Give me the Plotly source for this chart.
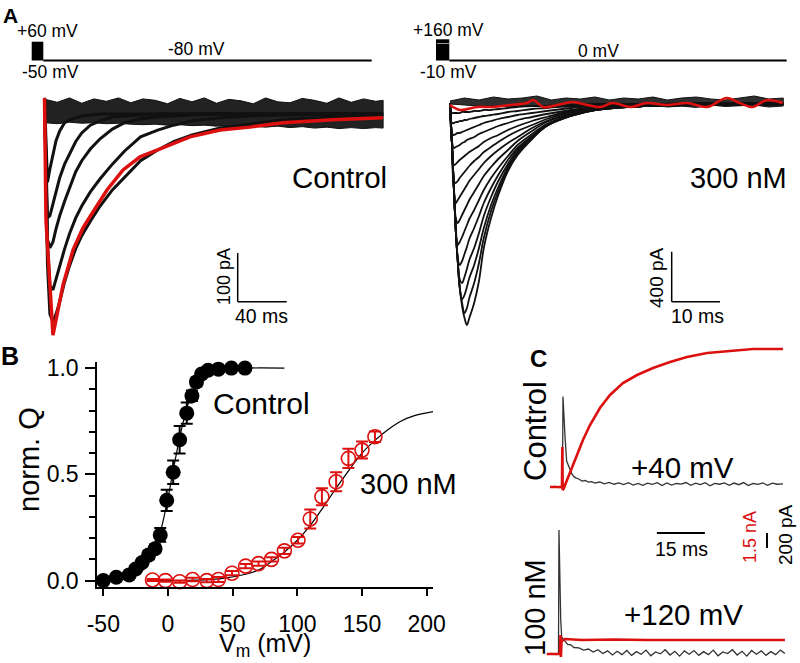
import plotly.graph_objects as go

W, H = 800, 663
FONT = "Liberation Sans, Arial, sans-serif"
RED = "#dd1010"

# ---------------- Panel B: Q-V data ----------------
ctrl_v = [-50, -40, -30, -25, -20, -15, -10, -6, -1, 4, 9, 14.5, 18.5, 22, 26, 31, 39, 49, 59.5]
ctrl_q = [0.0, 0.016, 0.027, 0.055, 0.085, 0.12, 0.15, 0.215, 0.378, 0.51, 0.663, 0.788, 0.87, 0.935, 0.972, 0.99, 0.995, 1.0, 1.0]
ctrl_err = [0.005, 0.005, 0.01, 0.015, 0.015, 0.02, 0.02, 0.032, 0.05, 0.055, 0.065, 0.05, 0.025, 0.02, 0.015, 0.01, 0.008, 0.005, 0.005]

tox_v = [-12, -2, 9, 19, 30, 39, 49.5, 60, 70, 80, 90, 100.5, 110, 119, 130, 139.5, 150, 160]
tox_q = [0.003, 0.0, -0.005, 0.005, 0.0, 0.005, 0.035, 0.068, 0.08, 0.1, 0.14, 0.19, 0.29, 0.395, 0.465, 0.575, 0.614, 0.677]
tox_err = [0.005, 0.005, 0.005, 0.008, 0.008, 0.012, 0.01, 0.01, 0.01, 0.01, 0.015, 0.015, 0.045, 0.04, 0.045, 0.045, 0.04, 0.025]

ctrl_fit_v = [-50, -40, -30, -20, -15, -10, -5, 0, 5, 10, 15, 20, 25, 30, 40, 50, 60, 90]
ctrl_fit_q = [0.001, 0.004, 0.013, 0.045, 0.083, 0.15, 0.25, 0.39, 0.55, 0.70, 0.82, 0.90, 0.945, 0.97, 0.99, 0.997, 1.0, 1.0]
tox_fit_v = [-15, 0, 20, 40, 60, 70, 80, 90, 100, 110, 120, 130, 140, 150, 160, 170, 180, 190, 205]
tox_fit_q = [0.0, 0.0, 0.002, 0.008, 0.03, 0.05, 0.09, 0.135, 0.19, 0.26, 0.345, 0.435, 0.52, 0.6, 0.66, 0.71, 0.75, 0.775, 0.795]

b_xticks = [-50, 0, 50, 100, 150, 200]
b_xticktext = ["-50", "0", "50", "100", "150", "200"]

# ---------------- Panel A left: Control off-gating currents (ms, pA) ----------------
ctrl_t = [-0.4, 0.8, 2, 4, 6.5, 9, 12, 16, 20, 25, 30, 37, 45, 55, 65, 78, 92, 105, 120, 143, 167, 194, 235, 276]
ctrl_tr1 = [33, -82, -140, -113, -82, -55, -35, -18, -12, -8, -4, -2, 0, 0, 0, 0, 0, 0, 0, 0, 0, 0, 0, 0]
ctrl_tr2 = [33, -123, -213, -209, -185, -160, -131, -103, -82, -57, -39, -23, -14, -6, -4, -2, 0, 0, 0, 0, 0, 0, 0, 0]
ctrl_tr3 = [33, -123, -257, -275, -263, -236, -209, -179, -152, -119, -96, -72, -51, -31, -18, -10, -6, -4, -2, 0, 0, 0, 0, 0]
ctrl_tr4 = [33, -144, -267, -353, -361, -339, -312, -277, -246, -214, -189, -160, -133, -103, -76, -47, -33, -23, -14, -8, -4, -2, 0, 0]
ctrl_tr5 = [33, -164, -308, -411, -427, -411, -386, -345, -312, -277, -250, -220, -189, -156, -129, -96, -74, -57, -43, -29, -21, -12, -6, -2]
ctrl_red_t = [-0.4, 0.8, 6.5, 10.6, 14.7, 22.9, 31, 36.7, 44.9, 50.6, 63.7, 77.6, 91.4, 104.5, 118.4, 142.9, 167.3, 194.3, 235.1, 275.9]
ctrl_red_i = [33, -218, -454, -402, -351, -279, -234, -211, -177, -156, -115, -88, -74, -60, -47, -33, -27, -18, -12, -8]
ctrl_band_t = [0, 10, 20, 30, 40, 50, 60, 70, 80, 90, 100, 110, 120, 130, 140, 150, 160, 170, 180, 190, 200, 210, 220, 230, 240, 250, 260, 270, 276]
ctrl_band_hi = [30, 24, 33, 22, 31, 26, 33, 23, 31, 28, 21, 32, 25, 33, 22, 30, 27, 21, 33, 25, 23, 32, 28, 22, 33, 24, 31, 26, 28]
ctrl_band_lo = [-18, -20, -17, -19, -18, -20, -19, -21, -22, -21, -23, -22, -24, -23, -25, -24, -26, -25, -27, -25, -28, -26, -29, -27, -30, -28, -30, -28, -29]

# ---------------- Panel A right: 300 nM (ms, pA) ----------------
t300 = [0, 0.4, 0.8, 1.2, 1.6, 2.0, 2.5, 3.0, 3.5, 4, 5, 6, 7, 8.5, 10, 12, 14, 17, 20, 25, 30, 40, 50, 69]
tr300 = [
    [0, -320, -680, -1024, -1264, -1472, -1624, -1720, -1776, -1720, -1600, -1424, -1160, -920, -736, -544, -416, -288, -184, -104, -56, -24, -16, -8],
    [0, -320, -680, -1024, -1264, -1472, -1600, -1680, -1640, -1560, -1440, -1280, -1080, -864, -704, -528, -400, -280, -184, -104, -56, -24, -16, -8],
    [0, -320, -680, -1024, -1264, -1472, -1568, -1536, -1472, -1400, -1296, -1160, -1000, -816, -672, -512, -392, -280, -184, -104, -56, -24, -16, -8],
    [0, -320, -680, -1024, -1264, -1408, -1440, -1392, -1328, -1256, -1160, -1040, -904, -752, -624, -488, -376, -272, -176, -96, -56, -24, -16, -8],
    [0, -320, -680, -1024, -1240, -1296, -1264, -1208, -1152, -1088, -1000, -904, -800, -680, -576, -456, -360, -264, -176, -96, -56, -24, -16, -8],
    [0, -320, -680, -1000, -1136, -1112, -1072, -1024, -976, -928, -856, -776, -696, -600, -520, -424, -336, -248, -168, -96, -48, -24, -16, -8],
    [0, -320, -680, -920, -960, -936, -896, -856, -816, -776, -712, -648, -584, -512, -448, -376, -304, -224, -152, -88, -48, -24, -16, -8],
    [0, -320, -680, -800, -776, -752, -720, -688, -656, -624, -576, -528, -480, -424, -376, -320, -272, -200, -144, -80, -48, -24, -16, -8],
    [0, -320, -624, -640, -624, -600, -576, -552, -528, -504, -464, -432, -392, -352, -312, -264, -224, -176, -128, -72, -40, -24, -16, -8],
    [0, -320, -496, -488, -472, -456, -440, -424, -408, -392, -368, -344, -312, -280, -256, -216, -184, -144, -112, -64, -40, -24, -16, -8],
    [0, -304, -360, -352, -344, -336, -320, -312, -296, -288, -272, -248, -232, -208, -184, -160, -136, -112, -88, -56, -32, -16, -8, -8],
    [0, -240, -256, -248, -240, -240, -232, -224, -216, -208, -192, -176, -160, -144, -128, -112, -96, -80, -64, -40, -24, -16, -8, -8],
    [0, -160, -160, -152, -152, -144, -144, -136, -136, -128, -120, -112, -104, -96, -88, -72, -64, -48, -40, -24, -16, -8, -8, 0],
    [0, -80, -80, -80, -80, -80, -72, -72, -72, -72, -64, -64, -56, -56, -48, -40, -32, -24, -24, -16, -8, -8, 0, 0],
]
red300_t = [0, 2.07, 5.6, 8.9, 12.4, 15.9, 17.2, 19.3, 22.2, 25.5, 28.4, 31.1, 33.7, 37.3, 40.8, 44.9, 49.1, 53.2, 57.3, 60, 62.7, 65.6, 68.9]
red300_i = [-16, -56, -32, -32, -16, 0, 24, -32, -16, 8, -16, -32, 0, -32, 0, -16, 0, -32, 40, 0, -32, 24, 0]
band300_t = [0, 3, 6, 9, 12, 15, 18, 21, 24, 27, 30, 33, 36, 39, 42, 45, 48, 51, 54, 57, 60, 63, 66, 69]
band300_hi = [16, 40, 24, 48, 32, 40, 56, 24, 40, 32, 48, 24, 40, 32, 48, 24, 40, 48, 32, 24, 40, 56, 32, 40]
band300_lo = [-8, -16, -24, -20, -32, -24, -28, -16, -32, -24, -36, -20, -32, -24, -16, -32, -24, -36, -16, -28, -24, -16, -32, -24]

# ---------------- Panel C (ms; black pA, red nA) ----------------
cc_t = [0, 1.5, 3, 3.9, 4.05, 4.3, 4.7, 5.2, 5.7, 6.25, 6.8, 7.3, 8, 9, 10, 11, 12, 13, 14, 15.5, 17, 18.5, 20, 21.5, 23, 24.5, 26, 27.5, 29, 30.5, 32, 33.5, 35, 36.5, 38, 39.5, 41, 42.5, 44, 45.5, 47, 48.5, 50, 51.5, 53, 54.5, 56, 57.5, 59, 60.5, 62, 63.5, 65, 66.5, 68, 69.5, 71, 72.8]
cc_i = [-27, -20, -33, -25, 1180, 900, 640, 320, 260, 200, 150, 120, 95, 80, 52, 60, 38, 45, 25, 40, 15, 35, 10, 28, 5, 30, 0, 22, -5, 25, 8, 30, -8, 27, 0, 20, 12, 33, -5, 24, 5, 30, -10, 22, 10, 28, -3, 26, 4, 32, -6, 20, 8, 27, -4, 24, 10, 15]
ccr_t = [0, 3.75, 3.85, 3.94, 4.2, 6.25, 8.4, 10.3, 12.5, 15.6, 18.75, 22.8, 27.2, 32.2, 37.5, 42.8, 49.1, 55.3, 63.4, 72.8]
ccr_i = [0, 0, 4.0, -0.3, -0.2, 1.4, 3.2, 4.7, 6.2, 7.9, 9.2, 10.4, 11.2, 11.9, 12.5, 13.0, 13.4, 13.6, 13.8, 13.8]
cb_t = [-1, 0.5, 2.0, 2.65, 2.8, 3.0, 3.35, 3.65, 4.2, 4.7, 5.5, 6.5, 7.5, 9, 10.5, 12, 13.5, 15, 16.5, 18, 19.5, 21, 22.5, 24, 25.5, 27, 28.5, 30, 31.5, 33, 34.5, 36, 37.5, 39, 40.5, 42, 43.5, 45, 46.5, 48, 49.5, 51, 52.5, 54, 55.5, 57, 58.5, 60, 61.5, 63, 64.5, 66, 67.5, 69, 70.5, 72, 73.4]
cb_i = [-30, -20, -35, -27, 1627, 1000, 430, 200, 170, 133, 100, 95, 60, 55, 25, 40, 0, 30, -20, 15, -40, 10, -35, 20, -45, 5, -30, 25, -50, 0, -25, 30, -40, 10, -55, 15, -30, 20, -45, 5, -35, 25, -50, 0, -20, 30, -40, 10, -55, 20, -30, 15, -45, 5, -35, 25, -20]
cbr_t = [-1, 3.1, 3.28, 3.4, 3.6, 4.7, 10, 20, 30, 40, 50, 60, 73.4]
cbr_i = [0, 0, 1.9, -0.3, 1.3, 1.5, 1.4, 1.45, 1.4, 1.4, 1.45, 1.4, 1.4]

# scale bar sizes
SB_A_CTRL = (40, 100)   # ms, pA
SB_A_TOX = (10, 400)    # ms, pA
SB_C = (15, 200)        # ms, pA


def fx(x):
    return x / W


def fy(y):
    return 1 - y / H


fig = go.Figure()


def line(x, y, xa, ya, color="black", width=1.5, shape="linear"):
    fig.add_trace(go.Scatter(x=x, y=y, xaxis=xa, yaxis=ya, mode="lines",
                             line=dict(color=color, width=width, shape=shape),
                             hoverinfo="skip", showlegend=False))


# ----- Panel A left -----
fig.add_trace(go.Scatter(x=ctrl_band_t + ctrl_band_t[::-1], y=ctrl_band_hi + ctrl_band_lo[::-1],
                         xaxis="x2", yaxis="y2", mode="lines", fill="toself",
                         fillcolor="rgba(10,10,10,0.9)", line=dict(width=1, color="#111"),
                         hoverinfo="skip", showlegend=False))
for tr in [ctrl_tr1, ctrl_tr2, ctrl_tr3, ctrl_tr4, ctrl_tr5]:
    line(ctrl_t, tr, "x2", "y2", "#111", 3)
line(ctrl_red_t, ctrl_red_i, "x2", "y2", RED, 3.5)

# ----- Panel A right -----
fig.add_trace(go.Scatter(x=band300_t + band300_t[::-1], y=band300_hi + band300_lo[::-1],
                         xaxis="x3", yaxis="y3", mode="lines", fill="toself",
                         fillcolor="rgba(10,10,10,0.85)", line=dict(width=1, color="#111"),
                         hoverinfo="skip", showlegend=False))
for tr in tr300:
    line(t300, tr, "x3", "y3", "#111", 1.8, "spline")
line(red300_t, red300_i, "x3", "y3", RED, 2.5, "spline")

# ----- Panel B -----
line(ctrl_fit_v, ctrl_fit_q, "x", "y", "black", 1.2, "spline")
line(tox_fit_v, tox_fit_q, "x", "y", "black", 1.2, "spline")
fig.add_trace(go.Scatter(x=ctrl_v, y=ctrl_q, xaxis="x", yaxis="y", mode="markers",
                         marker=dict(symbol="circle", size=15, color="black"),
                         error_y=dict(type="data", array=ctrl_err, color="black", thickness=2, width=6),
                         cliponaxis=False, hoverinfo="skip", showlegend=False))
fig.add_trace(go.Scatter(x=tox_v, y=tox_q, xaxis="x", yaxis="y", mode="markers",
                         marker=dict(symbol="circle-open", size=14, color=RED, line=dict(width=1.6, color=RED)),
                         error_y=dict(type="data", array=tox_err, color=RED, thickness=2, width=6),
                         cliponaxis=False, hoverinfo="skip", showlegend=False))

# ----- Panel C -----
line(cc_t, cc_i, "x4", "y4", "#333", 1.3)
line(ccr_t, ccr_i, "x4", "y5", RED, 2.6)
line(cb_t, cb_i, "x6", "y6", "#333", 1.3)
line(cbr_t, cbr_i, "x6", "y7", RED, 2.6)

hidden = dict(visible=False, showgrid=False, zeroline=False, fixedrange=True, automargin=False)

layout = dict(
    width=W, height=H, margin=dict(l=0, r=0, t=0, b=0, pad=0, autoexpand=False), autosize=False,
    paper_bgcolor="white", plot_bgcolor="rgba(0,0,0,0)", showlegend=False,
    font=dict(family=FONT, color="black"),
    xaxis=dict(domain=[fx(97), fx(433)], range=[-54.9, 204.9], anchor="y", automargin=False,
               showline=True, linecolor="black", linewidth=1.5, ticks="outside",
               ticklen=7, tickwidth=1.5, tickcolor="black", tickvals=b_xticks, ticktext=b_xticktext,
               tickfont=dict(size=23, family=FONT), ticklabelstandoff=9,
               showgrid=False, zeroline=False),
    yaxis=dict(domain=[fy(587), fy(361.7)], range=[-0.03, 1.03], anchor="x", automargin=False,
               showline=True, linecolor="black", linewidth=1.5, ticks="outside",
               ticklen=10, tickwidth=1.5, tickcolor="black", tick0=0, dtick=0.5, tickformat=".1f",
               minor=dict(ticks="outside", ticklen=6, tickwidth=1.5, tickcolor="black", dtick=0.1, tick0=0),
               tickfont=dict(size=23, family=FONT), ticklabelstandoff=2,
               showgrid=False, zeroline=False),
    xaxis2=dict(domain=[fx(40), fx(395)], range=[-4.08, 285.7], anchor="y2", **hidden),
    yaxis2=dict(domain=[fy(340), fy(85)], range=[-464.1, 59.5], anchor="x2", **hidden),
    xaxis3=dict(domain=[fx(440), fx(795)], range=[-2.07, 71.43], anchor="y3", **hidden),
    yaxis3=dict(domain=[fy(340), fy(85)], range=[-1896, 144], anchor="x3", **hidden),
    xaxis4=dict(domain=[fx(540), fx(795)], range=[-3.125, 76.56], anchor="y4", **hidden),
    yaxis4=dict(domain=[fy(520), fy(340)], range=[-466.7, 1933.3], anchor="x4", **hidden),
    yaxis5=dict(domain=[fy(520), fy(340)], range=[-3.3, 14.7], anchor="x4", overlaying="y4", **hidden),
    xaxis6=dict(domain=[fx(540), fx(795)], range=[-3.125, 76.56], anchor="y6", **hidden),
    yaxis6=dict(domain=[fy(663), fy(520)], range=[-146.7, 1760], anchor="x6", **hidden),
    yaxis7=dict(domain=[fy(663), fy(520)], range=[-0.9, 13.4], anchor="x6", overlaying="y6", **hidden),
)
fig.update_layout(**layout)

shapes = []


def seg(x0, y0, x1, y1, xref, yref, color="black", width=1.5):
    shapes.append(dict(type="line", x0=x0, y0=y0, x1=x1, y1=y1, xref=xref, yref=yref,
                       line=dict(color=color, width=width)))


# scale bars (in data units of each panel)
seg(157.3, -285.4, 157.3, -285.4 - SB_A_CTRL[1], "x2", "y2")
seg(157.3, -285.4 - SB_A_CTRL[1], 157.3 + SB_A_CTRL[0], -285.4 - SB_A_CTRL[1], "x2", "y2")
seg(45.9, -1190, 45.9, -1190 - SB_A_TOX[1], "x3", "y3")
seg(45.9, -1190 - SB_A_TOX[1], 45.9 + SB_A_TOX[0], -1190 - SB_A_TOX[1], "x3", "y3")
seg(33.4, 1586.7, 33.4 + SB_C[0], 1586.7, "x6", "y6", width=2)
seg(67.8, 1586.7, 67.8, 1586.7 - SB_C[1], "x6", "y6", width=2)

# voltage protocols (paper coords)
shapes.append(dict(type="rect", x0=fx(31.7), x1=fx(43.3), y0=fy(60.5), y1=fy(41.7), xref="paper", yref="paper",
                   fillcolor="black", line=dict(width=0)))
seg(fx(43.3), fy(60.5), fx(371.7), fy(60.5), "paper", "paper", width=2)
shapes.append(dict(type="rect", x0=fx(436), x1=fx(449.3), y0=fy(60.5), y1=fy(39.3), xref="paper", yref="paper",
                   fillcolor="black", line=dict(width=0)))
seg(fx(437), fy(43.5), fx(449), fy(43.5), "paper", "paper", color="#999", width=1)
seg(fx(449.3), fy(60.5), fx(786.7), fy(60.5), "paper", "paper", width=2)
fig.update_layout(shapes=shapes)


def text(x, y, s, size, color="black", angle=0, bold=False):
    fig.add_annotation(x=fx(x), y=fy(y), xref="paper", yref="paper", text=("<b>%s</b>" % s) if bold else s,
                       showarrow=False, textangle=angle, xanchor="center", yanchor="middle",
                       font=dict(size=size, color=color, family=FONT))


# panel letters
text(10, 15, "A", 21, bold=True)
text(10, 356, "B", 25, bold=True)
text(538, 358, "C", 24, bold=True)

# panel A texts
text(47.5, 31, "+60 mV", 17.5)
text(196, 49, "-80 mV", 17.5)
text(50, 72, "-50 mV", 17.5)
text(448, 30, "+160 mV", 17.5)
text(598, 51, "0 mV", 17.5)
text(448, 72, "-10 mV", 17.5)
text(339, 178, "Control", 29.5)
text(738, 178, "300 nM", 29)
text(224, 277, "100 pA", 18, angle=-90)
text(261, 316, "40 ms", 19.5)
text(656, 278, "400 pA", 19, angle=-90)
text(697, 316, "10 ms", 19.5)

# panel B texts
text(261, 404, "Control", 30)
text(408, 484, "300 nM", 29)
text(29, 459, "norm. Q", 29, angle=-90)
text(265, 645, "V<sub>m</sub> (mV)", 25)

# panel C texts
text(535, 431, "Control", 31, angle=-90)
text(535, 608, "100 nM", 29, angle=-90)
text(682, 467, "+40 mV", 29.5)
text(683, 614, "+120 mV", 29.5)
text(681, 549, "15 ms", 19.5)
text(750, 537, "1.5 nA", 18, color=RED, angle=-90)
text(785, 535, "200 pA", 19, angle=-90)

fig.write_html("out.html", config={"responsive": False, "displayModeBar": False},
               post_script="document.body.style.margin='0px';")
